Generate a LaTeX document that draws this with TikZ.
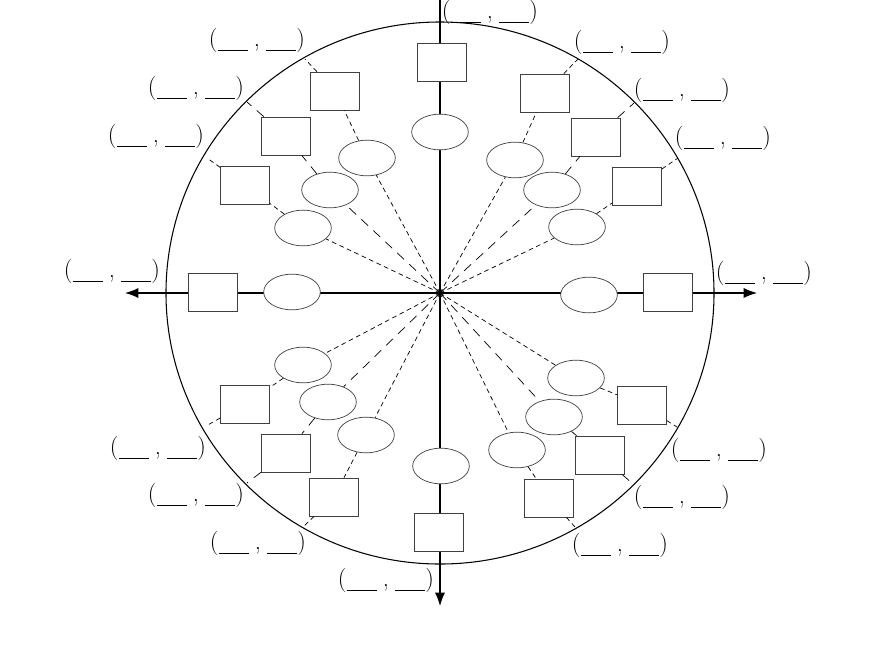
\documentclass[tikz,border=0pt]{standalone}
\usepackage{tikz}
\usetikzlibrary{shapes.geometric, arrows.meta}

\newcommand{\blank}{\rule[-0.22em]{1.25em}{1.3pt}}
\newcommand{\pairtext}{(\blank\hspace{0.25em},\hspace{0.25em}\blank)}

\begin{document}
\begin{tikzpicture}[x=0.03cm, y=-0.03cm]
\tikzstyle{box} = [rectangle, draw=black!75, line width=0.6pt, fill=white, minimum width=1.47cm, minimum height=1.14cm, inner sep=0pt]
\tikzstyle{oval} = [ellipse, draw=black!75, line width=0.6pt, fill=white, minimum width=1.7cm, minimum height=1.07cm, inner sep=0pt]
\tikzstyle{pair} = [font=\huge, inner sep=0pt]
\tikzstyle{axis} = [line width=0.9pt, >={Latex[length=4mm,width=3mm]}]
\tikzstyle{shortray} = [line width=0.6pt, dash pattern=on 4pt off 3pt]
\tikzstyle{longray} = [line width=0.6pt, dash pattern=on 8pt off 6pt]

\useasboundingbox (0,0) rectangle (880,660);
\fill[white] (0,0) rectangle (880,660);

\coordinate (O) at (440,293);
\coordinate (W) at (125,293);
\coordinate (E) at (757,293);
\coordinate (N) at (440,0);
\coordinate (S) at (440,606);

% unit circle and axes
\draw [line width=0.9pt] (O) ellipse [x radius=8.22cm, y radius=8.13cm];
\draw [axis, <->] (W) -- (E);
\draw [axis, ->] (N) -- (S);

% points on the axes
\foreach \n/\ex/\ey/\bx/\by/\lx/\ly in {0/589/295/668/292/764/273, 90/440/132/442/62/490/12,
  180/292/292/213/292/112/271, 270/441/466/439/532/386/580}
{
  \node (e\n) [oval] at (\ex,\ey) {};
  \node (b\n) [box] at (\bx,\by) {};
  \node (l\n) [pair] at (\lx,\ly) {\pairtext};
}

% the other angles
\foreach \n/\ex/\ey/\bx/\by/\px/\py/\lx/\ly/\st in {
  30/577/227/637/186/678/158/723/138/shortray,
  45/552/190/596/137/634/103/682/90/longray,
  60/515/160/545/93/578/59/622/42/shortray,
  120/367/158/335/91/305/59/257/40/shortray,
  135/330/190/286/136/247/102/196/88/longray,
  150/303/228/245/185/207/158/156/136/shortray,
  210/303/365/245/404/206/426/158/448/shortray,
  225/328/402/286/453/247/483/196/495/longray,
  240/366/435/334/497/303/527/258/543/shortray,
  300/517/450/549/498/575/527/620/545/shortray,
  315/554/417/600/455/633/484/682/497/longray,
  330/576/378/642/405/677/427/719/450/shortray}
{
  \coordinate (p\n) at (\px,\py);
  \node (e\n) [oval] at (\ex,\ey) {};
  \node (b\n) [box] at (\bx,\by) {};
  \node (l\n) [pair] at (\lx,\ly) {\pairtext};
  \draw [\st] (O) -- (e\n) -- (b\n) -- (p\n);
}
\end{tikzpicture}
\end{document}
